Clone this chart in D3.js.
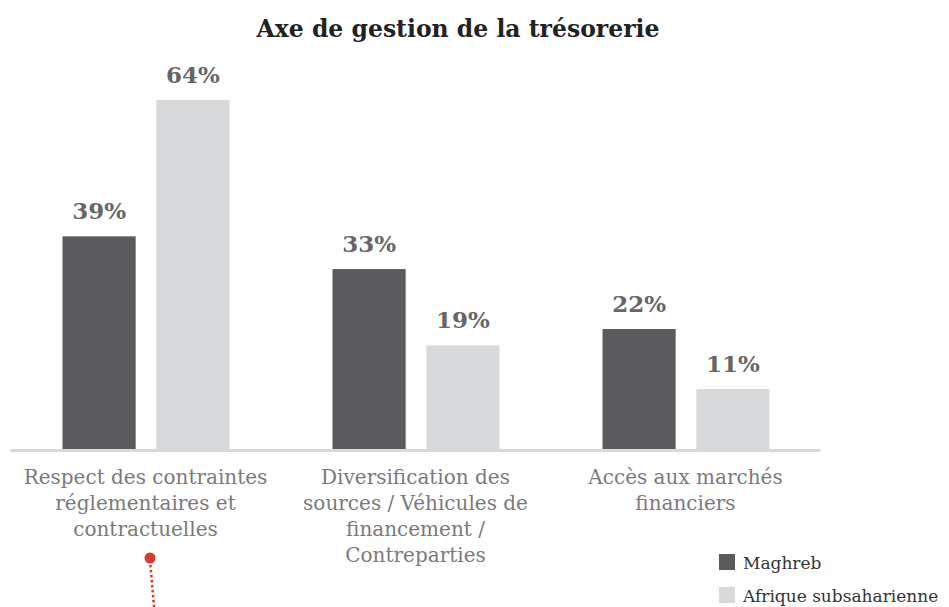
<!DOCTYPE html>
<html>
<head>
<meta charset="utf-8">
<script src="https://cdn.jsdelivr.net/npm/d3@7"></script>
<style>
  body { margin: 0; background: #fff; }
  svg { display: block; }
</style>
</head>
<body>
<svg id="chart" width="949" height="607"></svg>
<script>
// chart values
const categories = [
  ["Respect des contraintes", "réglementaires et", "contractuelles"],
  ["Diversification des", "sources / Véhicules de", "financement /", "Contreparties"],
  ["Accès aux marchés", "financiers"]
];
const series = ["Maghreb", "Afrique subsaharienne"];
const maghreb = [39, 33, 22];
const afrique = [64, 19, 11];
const colors = ["#5b5b5d", "#d8d9db"];

const svg = d3.select("#chart");
const serif = "Georgia, 'DejaVu Serif', 'Liberation Serif', serif";

// scales
const x = d3.scaleBand()
  .domain(d3.range(categories.length))
  .range([10.5, 820.5]);
const inner = d3.scaleBand()
  .domain(series)
  .range([52, 219])
  .paddingInner(0.22);
const y = d3.scaleLinear()
  .domain([0, 64])
  .range([449, 100]);

// title
svg.append("text")
  .attr("x", 458).attr("y", 37)
  .attr("text-anchor", "middle")
  .style("font-family", serif)
  .style("font-weight", "bold")
  .style("font-size", "23.5px")
  .style("fill", "#222")
  .text("Axe de gestion de la trésorerie");

// bars
const rows = categories.map((c, i) => [maghreb[i], afrique[i]]);
const groups = svg.selectAll("g.grp")
  .data(rows)
  .enter()
  .append("g")
  .attr("class", "grp")
  .attr("transform", (d, i) => `translate(${x(i)},0)`);

groups.selectAll("rect")
  .data(d => d.map((v, j) => ({ v: v, s: series[j], j: j })))
  .enter()
  .append("rect")
  .attr("x", d => inner(d.s))
  .attr("width", inner.bandwidth())
  .attr("y", d => y(d.v))
  .attr("height", d => y(0) - y(d.v))
  .style("fill", d => colors[d.j]);

groups.selectAll("text.val")
  .data(d => d.map((v, j) => ({ v: v, s: series[j] })))
  .enter()
  .append("text")
  .attr("class", "val")
  .attr("x", d => inner(d.s) + inner.bandwidth() / 2)
  .attr("y", d => y(d.v) - 17)
  .attr("text-anchor", "middle")
  .style("font-family", serif)
  .style("font-weight", "bold")
  .style("font-size", "23px")
  .style("fill", "#666")
  .text(d => d.v + "%");

// baseline
svg.append("line")
  .attr("x1", x.range()[0]).attr("x2", x.range()[1])
  .attr("y1", y(0) + 1.5).attr("y2", y(0) + 1.5)
  .style("stroke", "#d9d9d9")
  .style("stroke-width", 3);

// category labels
svg.selectAll("text.cat")
  .data(categories)
  .enter()
  .append("text")
  .attr("class", "cat")
  .attr("text-anchor", "middle")
  .style("font-family", serif)
  .style("font-size", "20px")
  .style("fill", "#7a7a7a")
  .each(function(lines, i) {
    d3.select(this).selectAll("tspan")
      .data(lines)
      .enter()
      .append("tspan")
      .attr("x", x(i) + x.bandwidth() / 2)
      .attr("y", (l, k) => 484 + k * 26)
      .text(l => l);
  });

// legend
const legend = svg.selectAll("g.leg")
  .data(series)
  .enter()
  .append("g")
  .attr("class", "leg")
  .attr("transform", (d, i) => `translate(719,${554 + i * 33})`);
legend.append("rect")
  .attr("width", 16).attr("height", 16)
  .style("fill", (d, i) => colors[i]);
legend.append("text")
  .attr("x", 24).attr("y", 15)
  .style("font-family", serif)
  .style("font-size", "17px")
  .style("fill", "#333")
  .text(d => d);

// red pointer marker
svg.append("line")
  .attr("x1", 150).attr("y1", 560)
  .attr("x2", 154).attr("y2", 607)
  .style("stroke", "#d93a2e")
  .style("stroke-width", 2.5)
  .style("stroke-dasharray", "2.5,2.5");
svg.append("circle")
  .attr("cx", 150).attr("cy", 558)
  .attr("r", 5.5)
  .style("fill", "#d93a2e");
</script>
</body>
</html>
